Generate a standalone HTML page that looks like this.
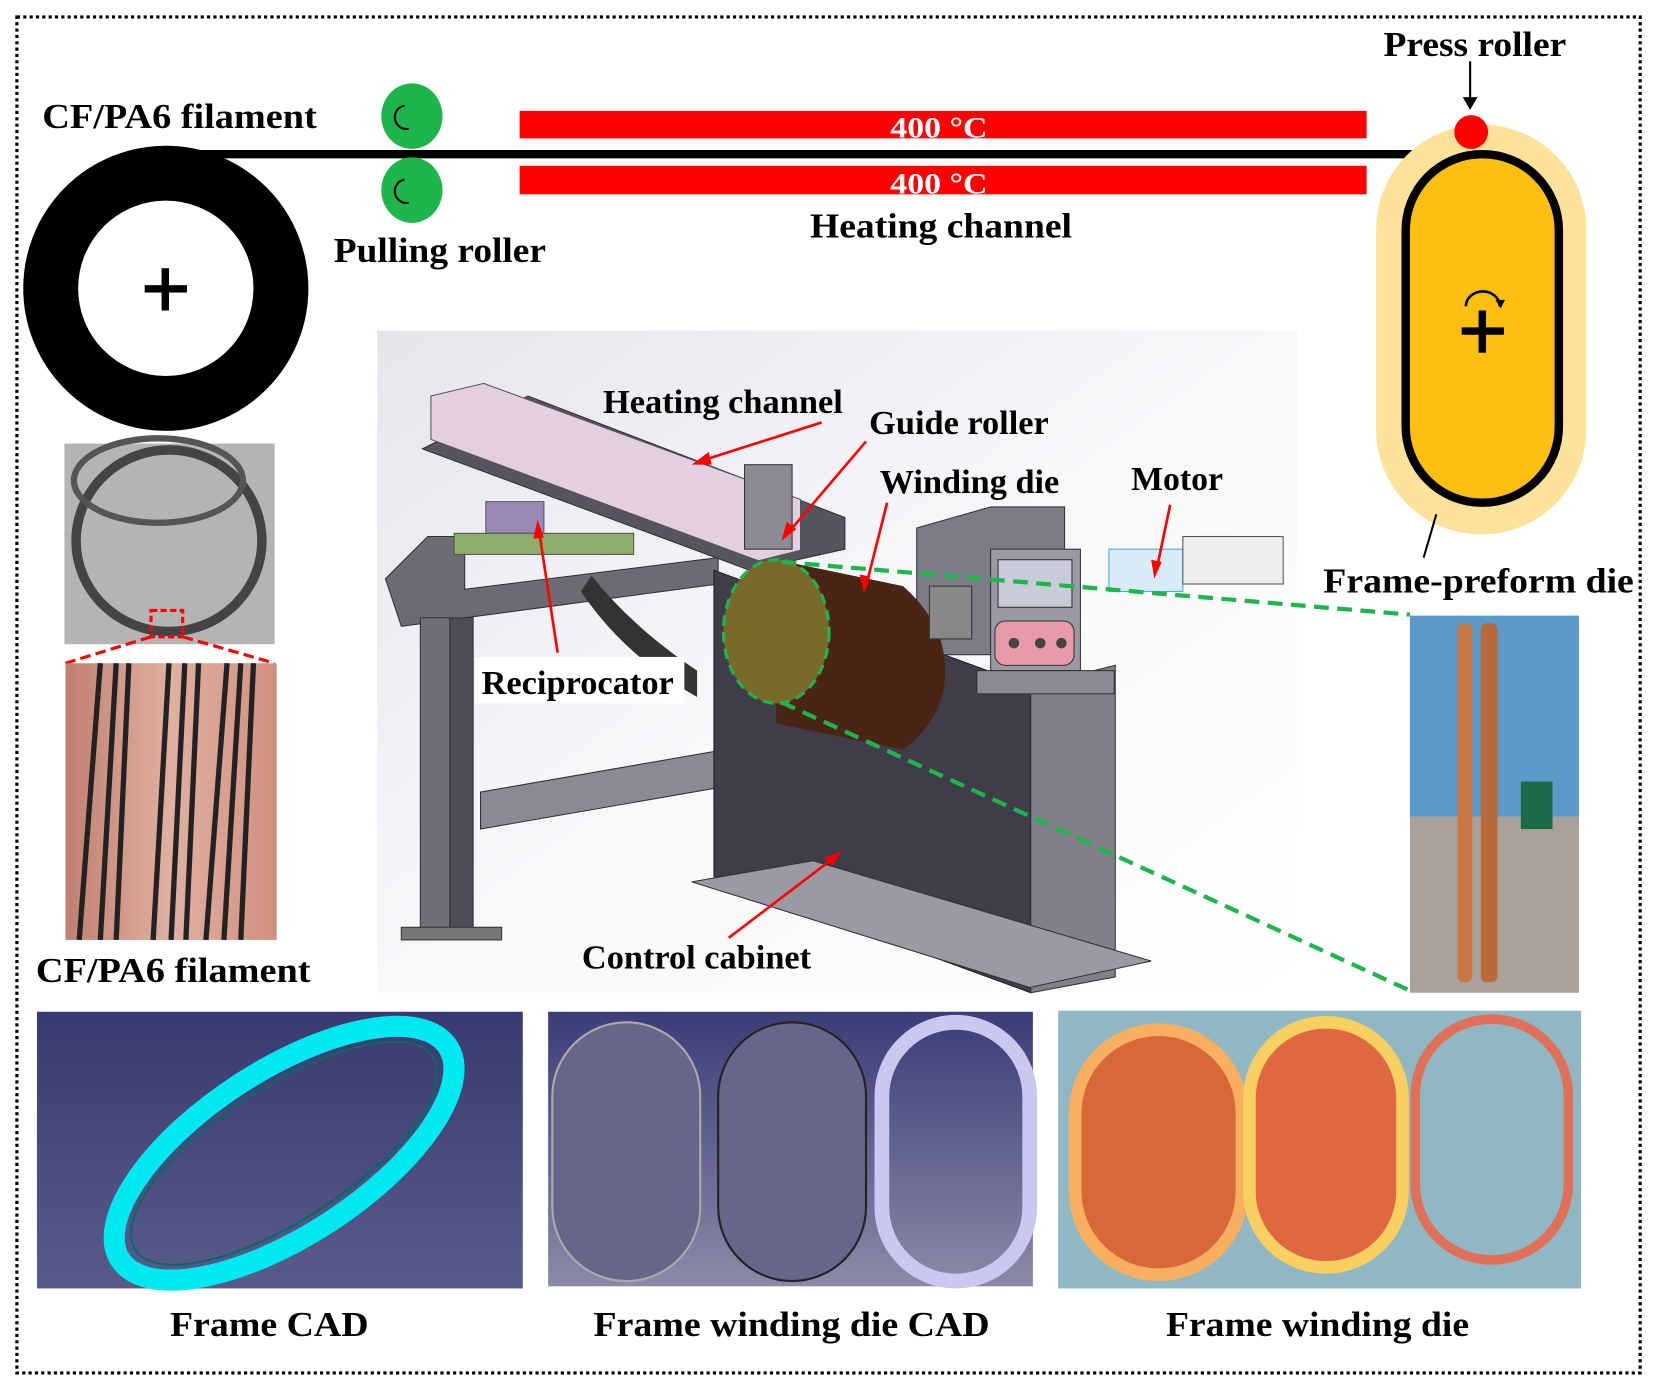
<!DOCTYPE html>
<html><head><meta charset="utf-8"><style>
html,body{margin:0;padding:0;background:#fff;}
svg{display:block;}
text{font-family:"Liberation Serif",serif;font-weight:bold;}
</style></head><body>
<svg width="1656" height="1393" viewBox="0 0 1568 1319" preserveAspectRatio="none" xmlns="http://www.w3.org/2000/svg">
<defs>
<linearGradient id="bg" x1="0" y1="0" x2="1" y2="1"><stop offset="0" stop-color="#e4e6ec"/><stop offset="0.5" stop-color="#f7f8fa"/><stop offset="1" stop-color="#fff"/></linearGradient>
<linearGradient id="cad2" x1="0" y1="0" x2="0" y2="1"><stop offset="0" stop-color="#3c3c78"/><stop offset="1" stop-color="#8a8aa8"/></linearGradient>
<linearGradient id="cad1" x1="0" y1="0" x2="0" y2="1"><stop offset="0" stop-color="#3a3a70"/><stop offset="1" stop-color="#5a5a8a"/></linearGradient>
<linearGradient id="skin" x1="0" y1="0" x2="1" y2="0"><stop offset="0" stop-color="#c08070"/><stop offset="0.5" stop-color="#e0b0a0"/><stop offset="1" stop-color="#d09080"/></linearGradient>
</defs>
<rect x="16" y="16" width="1537" height="1284" fill="none" stroke="#000" stroke-width="3" stroke-dasharray="3,3"/>

<!-- spool -->
<circle cx="157" cy="273" r="109" fill="none" stroke="#000" stroke-width="52"/>
<rect x="137" y="270" width="40" height="7" fill="#000"/><rect x="153" y="254" width="7" height="40" fill="#000"/>
<line x1="157" y1="146" x2="1395" y2="146" stroke="#000" stroke-width="8"/>
<text x="40" y="121" font-size="33" textLength="260" lengthAdjust="spacingAndGlyphs">CF/PA6 filament</text>
<!-- rollers -->
<ellipse cx="390" cy="110" rx="29" ry="31" fill="#1db64a"/>
<ellipse cx="390" cy="180" rx="29" ry="31" fill="#1db64a"/>
<path d="M383 100 a10 10 0 0 0 4 22" fill="none" stroke="#000" stroke-width="2"/>
<path d="M383 170 a10 10 0 0 0 4 22" fill="none" stroke="#000" stroke-width="2"/>
<text x="316" y="248" font-size="33" textLength="201" lengthAdjust="spacingAndGlyphs">Pulling roller</text>
<!-- heating bars -->
<rect x="492" y="105" width="802" height="26" fill="#f00"/>
<rect x="492" y="157" width="802" height="27" fill="#f00"/>
<text x="843" y="130" font-size="28" fill="#fff" textLength="92" lengthAdjust="spacingAndGlyphs">400 °C</text>
<text x="843" y="183" font-size="28" fill="#fff" textLength="92" lengthAdjust="spacingAndGlyphs">400 °C</text>
<text x="767" y="225" font-size="33" textLength="248" lengthAdjust="spacingAndGlyphs">Heating channel</text>
<!-- frame preform die -->
<rect x="1303" y="118" width="199" height="388" rx="99" fill="#fde39a"/>
<rect x="1331" y="146" width="145" height="330" rx="72" fill="#fdbf10" stroke="#000" stroke-width="8"/>
<rect x="1384" y="310" width="40" height="7" fill="#000"/><rect x="1400" y="294" width="7" height="40" fill="#000"/>
<path d="M1388 290 a16 14 0 0 1 32 0" fill="none" stroke="#000" stroke-width="2.5"/><path d="M1416 284 l5 8 l4 -8" fill="#000"/>
<circle cx="1393" cy="125" r="16" fill="#f00"/>
<text x="1310" y="53" font-size="33" textLength="173" lengthAdjust="spacingAndGlyphs">Press roller</text>
<line x1="1392" y1="58" x2="1392" y2="96" stroke="#000" stroke-width="2"/><path d="M1385 92 l7 12 l7 -12z" fill="#000"/>
<line x1="1360" y1="487" x2="1348" y2="528" stroke="#000" stroke-width="2"/>
<text x="1253" y="561" font-size="33" textLength="294" lengthAdjust="spacingAndGlyphs">Frame-preform die</text>

<!-- machine image -->
<rect x="357" y="313" width="871" height="627" fill="url(#bg)"/>
<path d="M365 548 l40 -40 l35 0 l0 50 l240 -30 l0 25 l-300 40 z" fill="#6b6b74" stroke="#333"/>
<rect x="398" y="585" width="28" height="300" fill="#6f6f78" stroke="#333"/>
<rect x="426" y="585" width="22" height="300" fill="#4d4d58" stroke="#333"/>
<rect x="380" y="878" width="95" height="12" fill="#777" stroke="#333"/>
<path d="M455 750 l230 -40 l0 35 l-230 40z" fill="#8a8a92" stroke="#333"/>
<path d="M560 545 q40 50 100 90 l0 25 q-70 -40 -110 -100z" fill="#333"/>
<path d="M400 425 l310 115 l90 -20 l0 -30 l-300 -115z" fill="#55555e" stroke="#333"/>
<path d="M408 375 l50 -12 l300 110 l0 48 l-40 10 l-310 -115z" fill="#e4cfe0" stroke="#555"/>
<rect x="705" y="440" width="45" height="80" fill="#8a8a92" stroke="#333"/>
<rect x="460" y="475" width="55" height="30" fill="#9a88b8" stroke="#555"/>
<rect x="430" y="505" width="170" height="20" fill="#8cae6a" stroke="#555"/>
<path d="M676 540 l300 110 l0 290 l-300 -110z" fill="#403c4a" stroke="#222"/>
<path d="M976 650 l80 -20 l0 295 l-80 15z" fill="#808088" stroke="#333"/>
<path d="M655 835 l320 100 l115 -25 l-320 -95z" fill="#9a9aa2" stroke="#333"/>
<path d="M868 500 l70 -20 l70 0 l0 140 l-140 0z" fill="#7c7c86" stroke="#333"/>
<rect x="938" y="520" width="85" height="115" fill="#9a9aa4" stroke="#333"/>
<rect x="945" y="530" width="70" height="45" fill="#c8ccd8" stroke="#333"/>
<rect x="942" y="588" width="75" height="42" rx="10" fill="#e79aa8" stroke="#333"/>
<circle cx="960" cy="609" r="5" fill="#444"/><circle cx="985" cy="609" r="5" fill="#444"/><circle cx="1005" cy="609" r="5" fill="#444"/>
<rect x="925" y="635" width="130" height="22" fill="#8a8a94" stroke="#333"/>
<rect x="1050" y="520" width="70" height="40" fill="#d8ecf8" stroke="#4aa8e0"/>
<rect x="1120" y="508" width="95" height="45" fill="#eeeeee" stroke="#555"/>
<path d="M735 530 l120 25 q40 35 40 80 q0 45 -40 75 l-120 -25z" fill="#4a2414"/>
<rect x="880" y="555" width="40" height="50" fill="#888" stroke="#333"/>
<ellipse cx="735" cy="598" rx="50" ry="68" fill="#786a2a" stroke="#1db64a" stroke-width="3" stroke-dasharray="10,6"/>
<g stroke="#1db64a" stroke-width="4" stroke-dasharray="14,8" fill="none">
<line x1="740" y1="532" x2="1335" y2="582"/>
<line x1="740" y1="665" x2="1335" y2="938"/>
</g>
<g stroke="#f00" stroke-width="2.5" fill="none">
<line x1="778" y1="400" x2="665" y2="436"/>
<line x1="820" y1="418" x2="745" y2="506"/>
<line x1="840" y1="476" x2="820" y2="555"/>
<line x1="1108" y1="478" x2="1095" y2="540"/>
<line x1="528" y1="618" x2="510" y2="500"/>
<line x1="690" y1="888" x2="790" y2="812"/>
</g>
<g fill="#f00">
<path d="M655 440 l16 -12 l3 12z"/><path d="M740 512 l5 -18 l9 7z"/><path d="M818 562 l-4 -18 l10 2z"/>
<path d="M1093 548 l-3 -18 l10 2z"/><path d="M509 492 l-4 18 l10 -1z"/><path d="M797 806 l-16 6 l7 8z"/>
</g>
<rect x="450" y="622" width="198" height="44" fill="#fff"/>
<text x="571" y="391" font-size="32" textLength="227" lengthAdjust="spacingAndGlyphs">Heating channel</text>
<text x="823" y="411" font-size="32" textLength="170" lengthAdjust="spacingAndGlyphs">Guide roller</text>
<text x="833" y="467" font-size="32" textLength="170" lengthAdjust="spacingAndGlyphs">Winding die</text>
<text x="1071" y="464" font-size="32" textLength="87" lengthAdjust="spacingAndGlyphs">Motor</text>
<text x="456" y="657" font-size="32" textLength="182" lengthAdjust="spacingAndGlyphs">Reciprocator</text>
<text x="551" y="917" font-size="32" textLength="217" lengthAdjust="spacingAndGlyphs">Control cabinet</text>

<!-- left photos -->
<rect x="61" y="420" width="199" height="190" fill="#b4b4b4"/>
<ellipse cx="160" cy="512" rx="88" ry="86" fill="none" stroke="#444" stroke-width="9"/>
<ellipse cx="150" cy="455" rx="80" ry="40" fill="none" stroke="#555" stroke-width="6"/>
<rect x="143" y="578" width="30" height="25" fill="none" stroke="#f00" stroke-width="3" stroke-dasharray="6,3"/>
<g stroke="#f00" stroke-width="3" stroke-dasharray="10,5"><line x1="143" y1="603" x2="62" y2="628"/><line x1="173" y1="603" x2="260" y2="628"/></g>
<rect x="62" y="628" width="200" height="262" fill="url(#skin)"/>
<g stroke="#222" stroke-width="5">
<line x1="95" y1="628" x2="75" y2="890"/><line x1="110" y1="628" x2="95" y2="890"/><line x1="122" y1="628" x2="110" y2="890"/>
<line x1="160" y1="628" x2="145" y2="890"/><line x1="175" y1="628" x2="162" y2="890"/><line x1="188" y1="628" x2="176" y2="890"/>
<line x1="215" y1="628" x2="195" y2="890"/><line x1="228" y1="628" x2="212" y2="890"/><line x1="240" y1="628" x2="228" y2="890"/>
</g>
<text x="34" y="930" font-size="33" textLength="260" lengthAdjust="spacingAndGlyphs">CF/PA6 filament</text>

<!-- right photo -->
<rect x="1335" y="583" width="160" height="357" fill="#a8a29a"/>
<rect x="1335" y="583" width="160" height="190" fill="#5a9ac8"/>
<rect x="1380" y="590" width="14" height="340" rx="6" fill="#c87844"/>
<rect x="1402" y="590" width="16" height="340" rx="6" fill="#b86a3a"/>
<rect x="1440" y="740" width="30" height="45" fill="#1a6a4a"/>

<!-- bottom panels -->
<rect x="35" y="958" width="460" height="262" fill="url(#cad1)"/>
<ellipse cx="269" cy="1092" rx="185" ry="78" transform="rotate(-33 269 1092)" fill="none" stroke="#00e8f0" stroke-width="20"/>
<ellipse cx="269" cy="1092" rx="168" ry="63" transform="rotate(-33 269 1092)" fill="none" stroke="#0b6868" stroke-width="2"/>
<rect x="519" y="958" width="459" height="260" fill="url(#cad2)"/>
<rect x="523" y="968" width="140" height="245" rx="70" fill="#66668a" stroke="#aaa" stroke-width="2"/>
<rect x="680" y="968" width="140" height="245" rx="70" fill="#66668a" stroke="#222" stroke-width="2"/>
<rect x="835" y="968" width="140" height="245" rx="70" fill="none" stroke="#c8c8f0" stroke-width="14"/>
<rect x="1002" y="957" width="495" height="263" fill="#8fb8c4"/>
<rect x="1018" y="975" width="158" height="232" rx="79" fill="#d86838" stroke="#f8b060" stroke-width="12"/>
<rect x="1183" y="968" width="145" height="232" rx="72" fill="#e06840" stroke="#f8d060" stroke-width="12"/>
<rect x="1340" y="965" width="145" height="228" rx="72" fill="none" stroke="#e07058" stroke-width="9"/>
<text x="161" y="1265" font-size="33" textLength="188" lengthAdjust="spacingAndGlyphs">Frame CAD</text>
<text x="562" y="1265" font-size="33" textLength="375" lengthAdjust="spacingAndGlyphs">Frame winding die CAD</text>
<text x="1104" y="1265" font-size="33" textLength="287" lengthAdjust="spacingAndGlyphs">Frame winding die</text>
</svg>
</body></html>
